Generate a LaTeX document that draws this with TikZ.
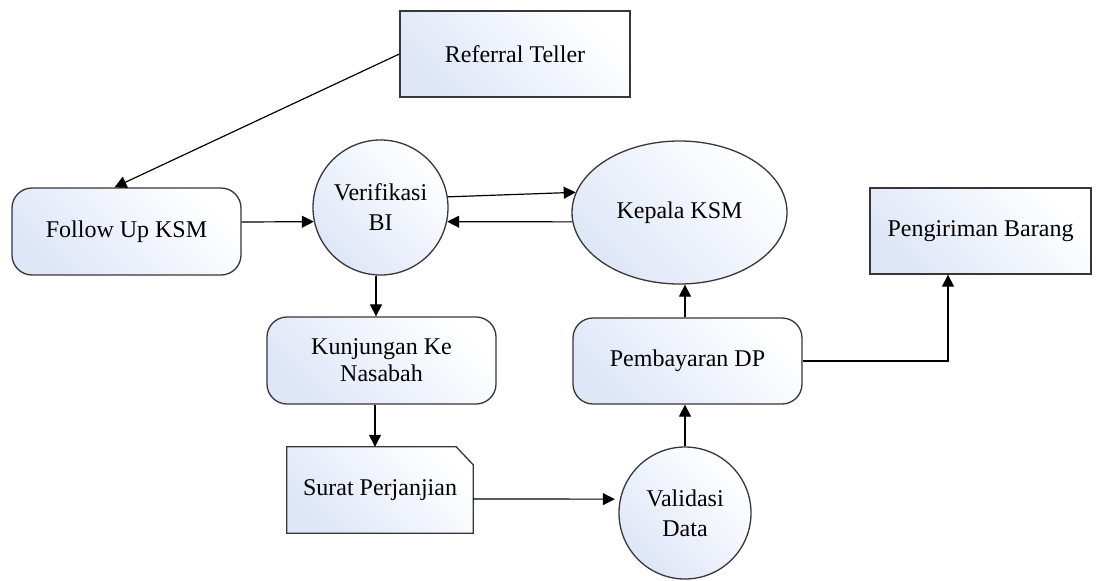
\documentclass[tikz,border=0pt]{standalone}
\usepackage{fontspec}
\setmainfont{Liberation Serif}
\usetikzlibrary{arrows.meta,shapes.geometric,backgrounds}
\definecolor{fillA}{RGB}{222,230,247}
\definecolor{edge}{RGB}{55,55,55}
\begin{document}
\begin{tikzpicture}[x=1pt,y=-1pt,
  every node/.style={font=\fontsize{24}{30}\selectfont, text=black, align=center, inner sep=0pt},
  shapebase/.style={draw=edge, line width=1.3pt, top color=fillA, bottom color=white, shading angle=135},
  boxsq/.style={shapebase, rectangle},
  boxrd/.style={shapebase, rectangle, rounded corners=20pt},
  circ/.style={shapebase, circle},
  ell/.style={shapebase, ellipse},
  arr/.style={draw=black, line width=1.2pt, -{Triangle[length=12pt,width=12pt]}}
]
\useasboundingbox (0,0) rectangle (1096,581);

% nodes
\node[boxsq, minimum width=230pt, minimum height=86pt] (ref) at (515,54) {Referral Teller};
\node[boxrd, minimum width=229pt, minimum height=87pt] (follow) at (126.5,231.5) {Follow Up KSM};
\node[circ, minimum size=135pt] (verif) at (380.5,207.5) {Verifikasi\\BI};
\node[ell, minimum width=215pt, minimum height=143pt] (kepala) at (679.5,212.5) {Kepala KSM};
\node[boxsq, minimum width=221pt, minimum height=86pt] (peng) at (980.5,231) {Pengiriman Barang};
\node[boxrd, minimum width=229pt, minimum height=87pt] (kunj) at (381.5,360.5) {Kunjungan Ke\\[-3pt]Nasabah};
\node[boxrd, minimum width=229pt, minimum height=86pt] (pemb) at (687.5,361) {Pembayaran DP};
\node[minimum width=186pt, minimum height=86pt] (surat) at (380,490) {Surat Perjanjian};
\node[circ, minimum size=132pt] (valid) at (685,513) {Validasi\\Data};

\begin{scope}[on background layer]
  \fill[white] (0,0) rectangle (1096,581);
  \shade[shapebase] (surat.south west) -- (surat.north west) -- ([xshift=-17pt]surat.north east)
     -- ([yshift=-18pt]surat.north east) -- (surat.south east) -- cycle;
\end{scope}

% connectors
\draw[arr] (ref.west) -- ([xshift=-12pt]follow.north);
\draw[arr] ([yshift=9.5pt]follow.east) -- (verif.192);
\draw[arr] (verif.9) -- (kepala.169);
\draw[arr] (kepala.185) -- (verif.348);
\draw[arr] ([xshift=-4.5pt]verif.south) -- ([xshift=-4.5pt]verif.south |- kunj.north);
\draw[arr] ([xshift=-6.5pt]kunj.south) -- ([xshift=-6.5pt]kunj.south |- surat.north);
\draw[arr, shorten >=5pt] ([yshift=-9pt]surat.east) -- (valid.168);
\draw[arr] (valid.north) -- (valid.north |- pemb.south);
\draw[arr] ([xshift=-2.5pt]pemb.north) -- ([xshift=-2.5pt]pemb.north |- kepala.south);
\draw[arr] (pemb.east) -| ([xshift=-32.5pt]peng.south);
\end{tikzpicture}
\end{document}
